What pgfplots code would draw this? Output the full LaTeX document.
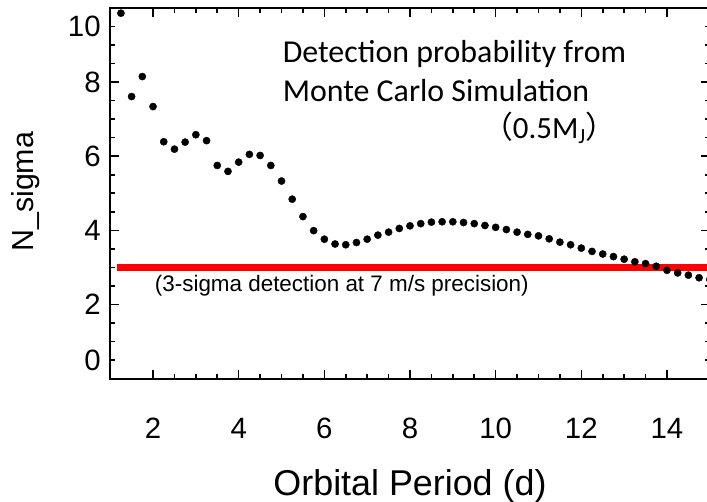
\documentclass[border=0pt]{standalone}
\usepackage{pgfplots}
\pgfplotsset{compat=1.18}
\usepackage{fontspec}
\setmainfont{Liberation Sans}
\newfontfamily\carlito{Carlito}
\newfontfamily\cjk{Noto Sans CJK JP}
\begin{document}
\begin{tikzpicture}
\begin{axis}[
  name=ax,
  scale only axis,
  width=599.6bp, height=370.5bp,
  xmin=1, xmax=15, ymin=0, ymax=10,
  xtick={2,4,6,8,10,12,14},
  xticklabels={2,4,6,8,10,12,14},
  ytick={0,2,4,6,8,10},
  yticklabels={\raisebox{17.8bp}[\height][\depth]{0},2,4,6,8,\raisebox{-18bp}[\height][\depth]{10}},
  minor tick num=3,
  tick align=inside,
  major tick length=9bp,
  minor tick length=5bp,
  axis line style={line width=2bp},
  every tick/.style={black, line width=1.6bp},
  /pgf/number format/assume math mode=true,
  tick label style={font=\fontsize{29.5}{29.5}\selectfont},
  xticklabel style={yshift=-36bp},
  yticklabel style={xshift=-6bp},
  xlabel={Orbital Period (d)},
  ylabel={N\_sigma},
  xlabel style={at={(axis description cs:0.5,0)}, anchor=base, yshift=-116.5bp, font=\fontsize{36}{36}\selectfont},
  ylabel style={at={(axis description cs:0,0.5)}, anchor=base, xshift=1.5bp, yshift=76.9bp, font=\fontsize{30.5}{30.5}\selectfont},
  clip=false,
]
\addplot[only marks, mark=*, mark size=3.6bp, black] coordinates {
(1.25,9.86) (1.5,7.61) (1.75,8.15) (2.0,7.34) (2.25,6.39) (2.5,6.19) (2.75,6.38)
(3.0,6.58) (3.25,6.42) (3.5,5.75) (3.75,5.59) (4.0,5.84) (4.25,6.05) (4.5,6.02)
(4.75,5.75) (5.0,5.33) (5.25,4.84) (5.5,4.37) (5.75,3.99) (6.0,3.76) (6.25,3.63)
(6.5,3.61) (6.75,3.67) (7.0,3.76) (7.25,3.87) (7.5,3.95) (7.75,4.05) (8.0,4.12)
(8.25,4.18) (8.5,4.22) (8.75,4.23) (9.0,4.23) (9.25,4.21) (9.5,4.18) (9.75,4.13)
(10.0,4.08) (10.25,4.02) (10.5,3.95) (10.75,3.89) (11.0,3.85) (11.25,3.77)
(11.5,3.68) (11.75,3.61) (12.0,3.52) (12.25,3.43) (12.5,3.36) (12.75,3.29)
(13.0,3.22) (13.25,3.15) (13.5,3.10) (13.75,3.03) (14.0,2.92) (14.25,2.85)
(14.5,2.79) (14.75,2.72) (15.0,2.67)
};
\addplot[red, line width=7bp, line cap=butt] coordinates {(1.166,3) (15,3)};
\node[anchor=base west, inner sep=0, font=\fontsize{22.5}{22.5}\selectfont] at (axis cs:2.04,2.36) {(3-sigma detection at 7 m/s precision)};
\node[anchor=base west, inner sep=0, font=\carlito\fontsize{32}{32}\selectfont] at (axis cs:5.026,8.524) {Detection probability from};
\node[anchor=base west, inner sep=0, font=\carlito\fontsize{32}{32}\selectfont] at (axis cs:5.026,7.471) {Monte Carlo Simulation};
\node[anchor=base west, inner sep=0, font=\carlito\fontsize{31}{31}\selectfont] at (axis cs:9.678,6.483) {{\cjk（}0.5M\textsubscript{J}{\cjk）}};
\end{axis}
\pgfresetboundingbox
\path[use as bounding box] ([shift={(-110.2bp,-123.5bp)}]ax.south west) rectangle ([shift={(-2.8bp,8bp)}]ax.north east);
\end{tikzpicture}
\end{document}
